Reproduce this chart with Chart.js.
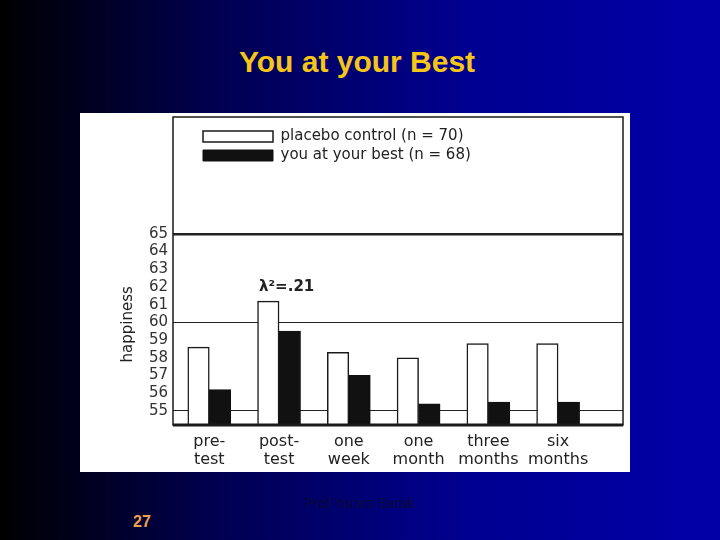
<!DOCTYPE html>
<html lang="en">
<head>
    <meta charset="UTF-8">
    <title>You at your Best</title>
    <script src="https://cdn.jsdelivr.net/npm/chart.js"></script>
    <style>
        body {
            margin: 0;
            width: 720px;
            height: 540px;
            overflow: hidden;
            position: relative;
            background: linear-gradient(to right, #000000 0%, #000050 30%, #000090 65%, #0000a8 100%);
            font-family: "Liberation Sans", Arial, sans-serif;
        }
        h1 {
            position: absolute;
            left: 0;
            top: 45px;
            width: 714px;
            margin: 0;
            text-align: center;
            font-size: 30px;
            font-weight: bold;
            color: #f5c518;
        }
        #box {
            position: absolute;
            left: 80px;
            top: 113px;
            width: 550px;
            height: 359px;
            background: #fff;
        }
        .footer {
            position: absolute;
            left: 0;
            width: 720px;
            top: 495px;
            text-align: center;
            font-size: 14px;
            color: #0a0a3a;
        }
        .page {
            position: absolute;
            left: 133px;
            top: 513px;
            font-size: 16px;
            font-weight: bold;
            color: #f0a050;
        }
    </style>
</head>
<body>
    <h1>You at your Best</h1>
    <div id="box"><canvas id="chart" width="550" height="359"></canvas></div>
    <div class="footer">Prof Yoram Barak</div>
    <div class="page">27</div>
    <script>
        var categories = [['pre-', 'test'], ['post-', 'test'], ['one', 'week'], ['one', 'month'], ['three', 'months'], ['six', 'months']];
        var placebo = [58.6, 61.2, 58.3, 58.0, 58.8, 58.8];
        var bestSelf = [56.2, 59.5, 57.0, 55.4, 55.5, 55.5];
        var yTicks = [55, 56, 57, 58, 59, 60, 61, 62, 63, 64, 65];
        var effectNote = 'λ²=.21';

        function points(values) {
            return values.map(function (v, i) { return { x: i, y: v }; });
        }

        var framePlugin = {
            id: 'frame',
            afterLayout: function (chart) {
                var lg = chart.legend;
                if (lg) { lg.left += 26; lg.top += 12; }
            },
            afterDraw: function (chart) {
                var c = chart.ctx, a = chart.chartArea;
                var x = chart.scales.x, y = chart.scales.y;
                c.save();
                c.strokeStyle = '#1a1a1a';
                c.lineWidth = 1.5;
                c.strokeRect(a.left, a.top, a.right - a.left, a.bottom - a.top);
                c.lineWidth = 3;
                c.beginPath();
                c.moveTo(a.left, a.bottom);
                c.lineTo(a.right, a.bottom);
                c.stroke();
                // effect size note above post-test
                c.fillStyle = '#222';
                c.font = 'bold 15px "DejaVu Sans"';
                c.textAlign = 'left';
                c.textBaseline = 'middle';
                c.fillText(effectNote, x.getPixelForValue(1) - 20, y.getPixelForValue(62));
                // axis title, centred on the labelled range
                c.translate(48, (y.getPixelForValue(55) + y.getPixelForValue(65)) / 2 + 2);
                c.rotate(-Math.PI / 2);
                c.textAlign = 'center';
                c.font = '15px "DejaVu Sans"';
                c.fillText('happiness', 0, 0);
                c.restore();
            }
        };

        new Chart(document.getElementById('chart'), {
            type: 'bar',
            data: {
                datasets: [{
                    label: 'placebo control (n = 70)',
                    data: points(placebo),
                    backgroundColor: '#ffffff',
                    borderColor: '#1a1a1a',
                    borderWidth: 1.5
                }, {
                    label: 'you at your best (n = 68)',
                    data: points(bestSelf),
                    backgroundColor: '#111111',
                    borderColor: '#111111',
                    borderWidth: 1
                }]
            },
            options: {
                responsive: false,
                animation: false,
                barThickness: 21.5,
                layout: { padding: { left: 0, right: 7, top: 4, bottom: 0 } },
                plugins: {
                    legend: {
                        position: 'chartArea',
                        align: 'start',
                        labels: {
                            boxWidth: 70,
                            boxHeight: 11,
                            padding: 4,
                            color: '#222',
                            font: { family: 'DejaVu Sans', size: 15 }
                        }
                    },
                    tooltip: { enabled: false }
                },
                scales: {
                    x: {
                        type: 'linear',
                        offset: false,
                        min: -0.52,
                        max: 5.93,
                        afterBuildTicks: function (s) {
                            s.ticks = categories.map(function (c, i) { return { value: i }; });
                        },
                        afterFit: function (s) { s.height = 47; },
                        grid: { display: false },
                        border: { display: false },
                        ticks: {
                            padding: 0,
                            maxRotation: 0,
                            autoSkip: false,
                            color: '#222',
                            font: { family: 'DejaVu Sans', size: 16, lineHeight: 1.1 },
                            callback: function (v) { return categories[v]; }
                        }
                    },
                    y: {
                        min: 54.2,
                        max: 71.6,
                        afterBuildTicks: function (s) {
                            s.ticks = yTicks.map(function (v) { return { value: v }; });
                        },
                        afterFit: function (s) {
                            s.width = 93;
                            s.paddingTop = 0;
                            s.paddingBottom = 0;
                        },
                        border: { display: false },
                        grid: {
                            drawTicks: false,
                            color: function (ctx) {
                                return ctx.tick && ctx.tick.value % 5 === 0 ? '#222' : 'rgba(0,0,0,0)';
                            },
                            lineWidth: function (ctx) {
                                return ctx.tick && ctx.tick.value === 65 ? 2.5 : 1;
                            }
                        },
                        ticks: {
                            padding: 5,
                            color: '#333',
                            font: { family: 'DejaVu Sans', size: 15 }
                        }
                    }
                }
            },
            plugins: [framePlugin]
        });
    </script>
</body>
</html>
